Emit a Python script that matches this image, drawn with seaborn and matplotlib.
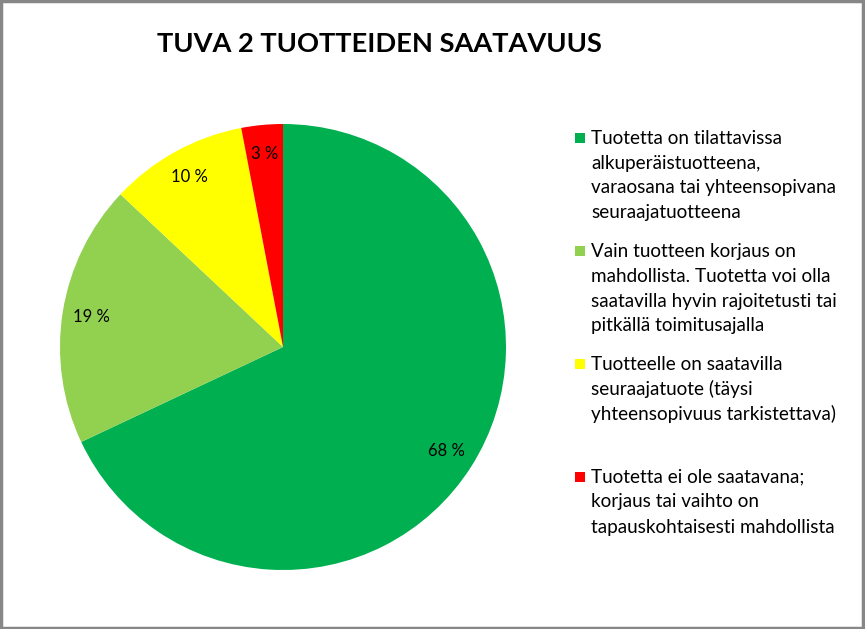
import matplotlib
matplotlib.use("Agg")
import matplotlib.pyplot as plt
import seaborn as sns
from matplotlib.patches import Rectangle

# Data
categories = [
    "Tuotetta on tilattavissa alkuperäistuotteena, varaosana tai yhteensopivana seuraajatuotteena",
    "Vain tuotteen korjaus on mahdollista. Tuotetta voi olla saatavilla hyvin rajoitetusti tai pitkällä toimitusajalla",
    "Tuotteelle on saatavilla seuraajatuote (täysi yhteensopivuus tarkistettava)",
    "Tuotetta ei ole saatavana; korjaus tai vaihto on tapauskohtaisesti mahdollista",
]
legend_lines = [
    ["Tuotetta on tilattavissa", "alkuperäistuotteena,", "varaosana tai yhteensopivana", "seuraajatuotteena"],
    ["Vain tuotteen korjaus on", "mahdollista. Tuotetta voi olla", "saatavilla hyvin rajoitetusti tai", "pitkällä toimitusajalla"],
    ["Tuotteelle on saatavilla", "seuraajatuote (täysi", "yhteensopivuus tarkistettava)", ""],
    ["Tuotetta ei ole saatavana;", "korjaus tai vaihto on", "tapauskohtaisesti mahdollista"],
]
shares = [68, 19, 10, 3]
colors = ["#00B050", "#92D050", "#FFFF00", "#FF0000"]

sns.set_theme(style="white")
plt.rcParams["font.family"] = ["Lato", "DejaVu Sans"]
plt.rcParams["text.color"] = "black"

W, H = 865, 629
fig = plt.figure(figsize=(W / 100, H / 100), dpi=100)

# pie axes, centre ~ (283, 347) px, radius ~223 px
cx, cy, r = 283, 347, 223
ax = fig.add_axes([(cx - r) / W, 1 - (cy + r) / H, 2 * r / W, 2 * r / H])
wedges, texts, autotexts = ax.pie(
    shares,
    colors=colors,
    startangle=90,
    counterclock=False,
    autopct=lambda p: f"{p:.0f} %",
    pctdistance=0.87,
    textprops={"fontsize": 12, "color": "black"},
    wedgeprops={"linewidth": 0},
)
ax.set_xlim(-1, 1)
ax.set_ylim(-1, 1)
ax.set_aspect("equal")
ax.axis("off")

fig.text(379 / W, 1 - 44 / H, "TUVA 2 TUOTTEIDEN SAATAVUUS",
         ha="center", va="center", fontsize=19.6, fontweight="bold")

# legend drawn by hand so the square sits on the first line of each entry
y = 138
for lines, col in zip(legend_lines, colors):
    fig.add_artist(Rectangle(((575) / W, 1 - (y + 5) / H), 10 / W, 10 / H,
                             transform=fig.transFigure, color=col, lw=0))
    for i, line in enumerate(lines):
        fig.text(591 / W, 1 - (y + i * 25) / H, line, ha="left", va="center", fontsize=13.6)
    y += len(lines) * 25 + 13

# grey frame around the chart
fig.add_artist(Rectangle((0.001, 0.001), 0.997, 0.997, transform=fig.transFigure,
                         fill=False, edgecolor="#878787", lw=2.5))

fig.savefig("out.png", dpi=100)
